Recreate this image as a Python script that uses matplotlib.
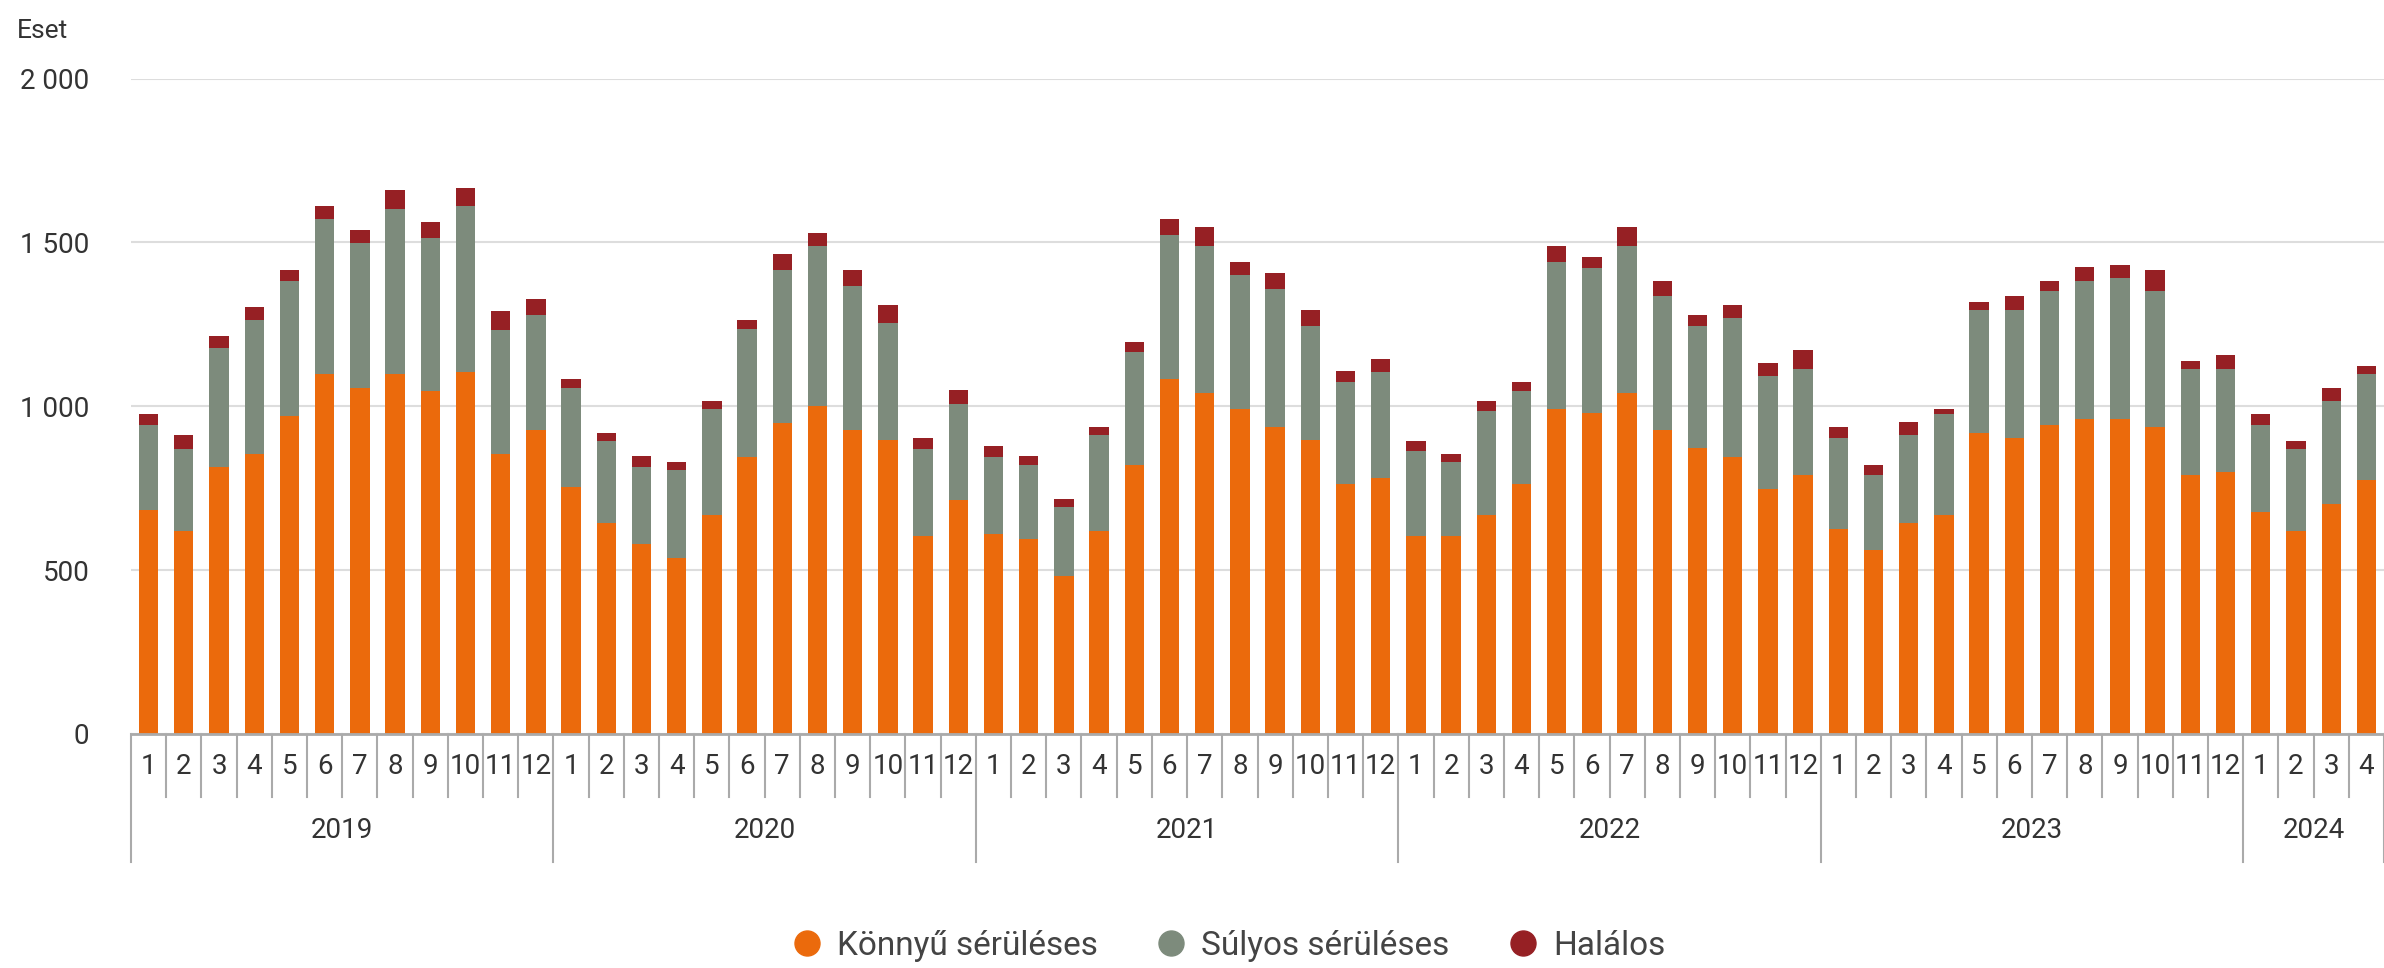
import matplotlib
matplotlib.use("Agg")
import matplotlib.pyplot as plt
from matplotlib.lines import Line2D
from matplotlib.transforms import blended_transform_factory
import numpy as np

plt.rcParams['font.family'] = ['Roboto', 'DejaVu Sans']

# havi adatok 2019-01 .. 2024-04
years = [2019, 2020, 2021, 2022, 2023, 2024]
months_per_year = [12, 12, 12, 12, 12, 4]

konnyu = [684, 618, 814, 853, 970, 1098, 1057, 1098, 1048, 1106, 853, 927,
          755, 643, 579, 537, 667, 845, 950, 1001, 928, 896, 603, 715,
          610, 596, 482, 619, 822, 1083, 1041, 993, 936, 896, 764, 782,
          603, 603, 667, 764, 993, 978, 1041, 928, 872, 845, 748, 789,
          627, 560, 643, 667, 919, 903, 943, 961, 961, 936, 789, 798,
          677, 619, 701, 774]
sulyos = [259, 253, 365, 409, 412, 472, 440, 504, 465, 504, 381, 350,
          302, 251, 235, 268, 325, 391, 466, 487, 439, 357, 268, 293,
          235, 226, 210, 293, 343, 438, 447, 407, 422, 348, 311, 324,
          259, 228, 317, 284, 447, 445, 447, 407, 372, 425, 343, 325,
          276, 229, 269, 310, 374, 390, 408, 421, 430, 415, 325, 316,
          266, 252, 316, 324]
halalos = [32, 41, 34, 40, 34, 41, 40, 58, 48, 57, 58, 49,
           25, 25, 33, 26, 25, 26, 49, 40, 49, 57, 32, 41,
           34, 25, 25, 24, 31, 49, 58, 40, 49, 49, 32, 39,
           32, 23, 33, 27, 50, 33, 59, 48, 33, 40, 40, 58,
           33, 33, 40, 15, 25, 42, 32, 43, 41, 65, 24, 42,
           32, 23, 40, 24]

series_names = ['Könnyű sérüléses', 'Súlyos sérüléses', 'Halálos']
colors = ['#EB6A0C', '#7D8B7C', '#962024']

month_labels = []
for n in months_per_year:
    month_labels += [str(m) for m in range(1, n + 1)]

x = np.arange(len(konnyu))
k = np.array(konnyu)
s = np.array(sulyos)
h = np.array(halalos)

fig = plt.figure(figsize=(23.84, 9.68), dpi=100)
ax = fig.add_axes([131 / 2384, 1 - 734 / 968, 1 - 131 / 2384, (734 - 78.5) / 968])

w = 0.55
ax.bar(x, k, w, color=colors[0], zorder=3)
ax.bar(x, s, w, bottom=k, color=colors[1], zorder=3)
ax.bar(x, h, w, bottom=k + s, color=colors[2], zorder=3)

ax.set_xlim(-0.5, len(x) - 0.5)
ax.set_ylim(0, 2000)
yt = [0, 500, 1000, 1500, 2000]
ax.set_yticks(yt)
ax.set_yticklabels([f"{v:,}".replace(",", " ") for v in yt])
ax.yaxis.grid(True, color='#DDDDDD', lw=1.5, zorder=0)
ax.tick_params(axis='y', length=0, pad=30, labelsize=20, labelcolor='#333333')
for sp in ax.spines.values():
    sp.set_visible(False)
ax.axhline(0, color='#AAAAAA', lw=2, zorder=4, clip_on=False)

ax.set_xticks(x)
ax.set_xticklabels(month_labels)
ax.tick_params(axis='x', length=0, pad=14, labelsize=20, labelcolor='#333333')

# kategória elválasztók
tr = blended_transform_factory(ax.transData, ax.transAxes)
starts = np.cumsum([0] + months_per_year)
for i in range(len(x) + 1):
    bottom = -0.195 if i in starts else -0.096
    ax.plot([i - 0.5, i - 0.5], [0, bottom], transform=tr, color='#AAAAAA',
            lw=1.5, clip_on=False, zorder=1)
for yr, a, b in zip(years, starts[:-1], starts[1:]):
    ax.text((a + b - 1) / 2, -0.147, str(yr), transform=tr, ha='center',
            va='center', fontsize=20, color='#333333')

fig.text(17 / 2384, 1 - 31 / 968, 'Eset', fontsize=19, color='#333333',
         ha='left', va='center')

handles = [Line2D([], [], marker='o', ls='', markersize=18, color=c) for c in colors]
fig.legend(handles, series_names, loc='center', bbox_to_anchor=(0.515, 1 - 946 / 968),
           ncol=3, frameon=False, fontsize=24, labelcolor='#444444',
           handlelength=1.0, handletextpad=0.4, columnspacing=1.7)

fig.savefig('out.png', dpi=100)
